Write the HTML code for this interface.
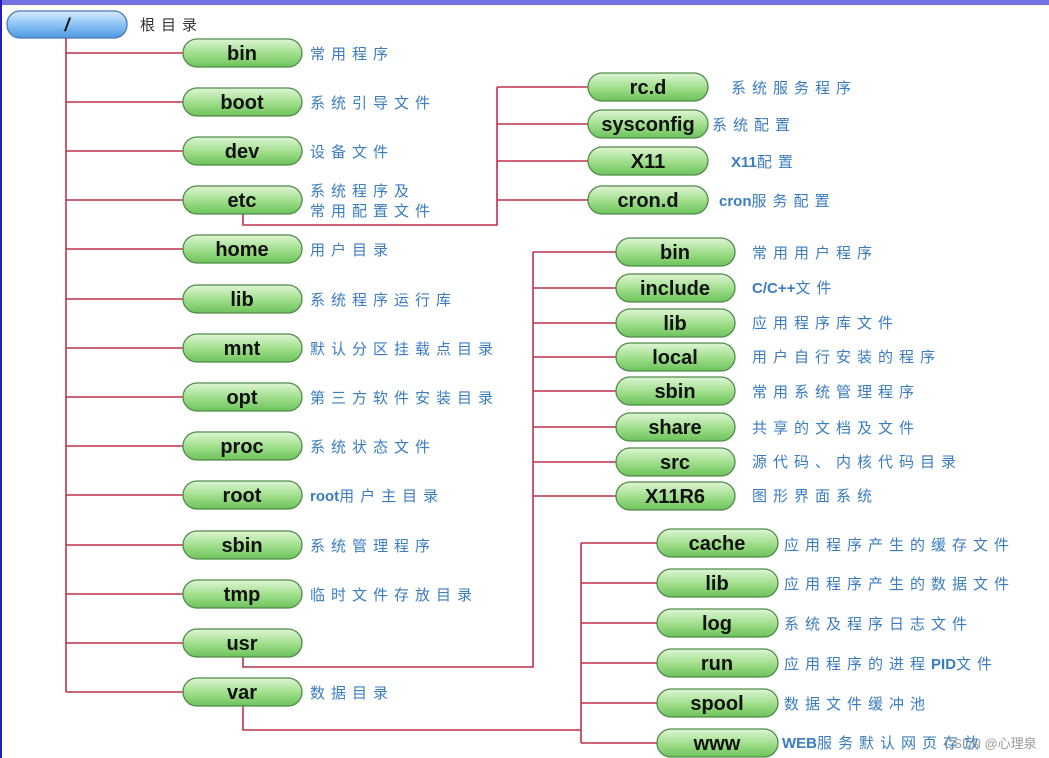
<!DOCTYPE html>
<html><head><meta charset="utf-8"><style>
html,body{margin:0;padding:0;background:#fff;}
svg{display:block;}
.n{font-family:"Liberation Sans",sans-serif;font-weight:bold;font-size:20px;fill:#111;text-anchor:middle;}
.l{font-family:"Liberation Sans","Noto Sans CJK SC",sans-serif;font-size:15px;fill:#3a7cc0;letter-spacing:6px;}
.ln{stroke:#c0304a;stroke-width:1.6;fill:none;}
.p{fill:url(#g);stroke:#4f8a4a;stroke-width:1.3;}
</style></head><body>
<svg width="1049" height="758" xmlns="http://www.w3.org/2000/svg">
<defs>
<linearGradient id="g" x1="0" y1="0" x2="0" y2="1">
<stop offset="0" stop-color="#dff5d6"/><stop offset="0.5" stop-color="#a3e08f"/><stop offset="1" stop-color="#6cc35a"/></linearGradient>
<linearGradient id="b" x1="0" y1="0" x2="0" y2="1">
<stop offset="0" stop-color="#d8ecff"/><stop offset="0.5" stop-color="#8cc4f5"/><stop offset="1" stop-color="#4f98e0"/></linearGradient>
</defs>
<rect x="0" y="0" width="1049" height="5" fill="#7272e0"/>
<rect x="0" y="0" width="2" height="758" fill="#2020c0"/>
<rect x="7" y="11" width="120" height="27" rx="13" fill="url(#b)" stroke="#4a7cb0" stroke-width="1.3"/>
<text x="67" y="31" class="n" style="font-size:18px;font-style:italic">/</text>
<text x="140" y="30" class="l" style="fill:#333">根目录</text>
<path class="ln" d="M66 38V692"/>
<path class="ln" d="M243 214V225H497V87M497 87H588M497 124H588M497 161H588M497 200H588"/>
<path class="ln" d="M243 657V667H533V252M533 252H616M533 288H616M533 323H616M533 357H616M533 391H616M533 427H616M533 462H616M533 496H616"/>
<path class="ln" d="M243 706V730H581M581 743V543M581 543H657M581 583H657M581 623H657M581 663H657M581 703H657M581 743H657"/>
<path class="ln" d="M66 53H183M66 102H183M66 151H183M66 200H183M66 249H183M66 299H183M66 348H183M66 397H183M66 446H183M66 495H183M66 545H183M66 594H183M66 643H183M66 692H183"/>
<g>
<rect class="p" x="183" y="39" width="119" height="28" rx="14"/><text class="n" x="242" y="60">bin</text>
<rect class="p" x="183" y="88" width="119" height="28" rx="14"/><text class="n" x="242" y="109">boot</text>
<rect class="p" x="183" y="137" width="119" height="28" rx="14"/><text class="n" x="242" y="158">dev</text>
<rect class="p" x="183" y="186" width="119" height="28" rx="14"/><text class="n" x="242" y="207">etc</text>
<rect class="p" x="183" y="235" width="119" height="28" rx="14"/><text class="n" x="242" y="256">home</text>
<rect class="p" x="183" y="285" width="119" height="28" rx="14"/><text class="n" x="242" y="306">lib</text>
<rect class="p" x="183" y="334" width="119" height="28" rx="14"/><text class="n" x="242" y="355">mnt</text>
<rect class="p" x="183" y="383" width="119" height="28" rx="14"/><text class="n" x="242" y="404">opt</text>
<rect class="p" x="183" y="432" width="119" height="28" rx="14"/><text class="n" x="242" y="453">proc</text>
<rect class="p" x="183" y="481" width="119" height="28" rx="14"/><text class="n" x="242" y="502">root</text>
<rect class="p" x="183" y="531" width="119" height="28" rx="14"/><text class="n" x="242" y="552">sbin</text>
<rect class="p" x="183" y="580" width="119" height="28" rx="14"/><text class="n" x="242" y="601">tmp</text>
<rect class="p" x="183" y="629" width="119" height="28" rx="14"/><text class="n" x="242" y="650">usr</text>
<rect class="p" x="183" y="678" width="119" height="28" rx="14"/><text class="n" x="242" y="699">var</text>
</g>
<g>
<text class="l" x="310" y="59">常用程序</text>
<text class="l" x="310" y="108">系统引导文件</text>
<text class="l" x="310" y="157">设备文件</text>
<text class="l" x="310" y="196">系统程序及</text>
<text class="l" x="310" y="216">常用配置文件</text>
<text class="l" x="310" y="255">用户目录</text>
<text class="l" x="310" y="305">系统程序运行库</text>
<text class="l" x="310" y="354">默认分区挂载点目录</text>
<text class="l" x="310" y="403">第三方软件安装目录</text>
<text class="l" x="310" y="452">系统状态文件</text>
<text class="l" x="310" y="501"><tspan font-weight="bold" letter-spacing="0">root</tspan>用户主目录</text>
<text class="l" x="310" y="551">系统管理程序</text>
<text class="l" x="310" y="600">临时文件存放目录</text>
<text class="l" x="310" y="698">数据目录</text>
</g>
<g>
<rect class="p" x="588" y="73" width="120" height="28" rx="14"/><text class="n" x="648" y="94">rc.d</text>
<rect class="p" x="588" y="110" width="120" height="28" rx="14"/><text class="n" x="648" y="131">sysconfig</text>
<rect class="p" x="588" y="147" width="120" height="28" rx="14"/><text class="n" x="648" y="168">X11</text>
<rect class="p" x="588" y="186" width="120" height="28" rx="14"/><text class="n" x="648" y="207">cron.d</text>
<text class="l" x="731" y="93">系统服务程序</text>
<text class="l" x="712" y="130">系统配置</text>
<text class="l" x="731" y="167"><tspan font-weight="bold" letter-spacing="0">X11</tspan>配置</text>
<text class="l" x="719" y="206"><tspan font-weight="bold" letter-spacing="0">cron</tspan>服务配置</text>
</g>
<g>
<rect class="p" x="616" y="238" width="119" height="28" rx="14"/><text class="n" x="675" y="259">bin</text>
<rect class="p" x="616" y="274" width="119" height="28" rx="14"/><text class="n" x="675" y="295">include</text>
<rect class="p" x="616" y="309" width="119" height="28" rx="14"/><text class="n" x="675" y="330">lib</text>
<rect class="p" x="616" y="343" width="119" height="28" rx="14"/><text class="n" x="675" y="364">local</text>
<rect class="p" x="616" y="377" width="119" height="28" rx="14"/><text class="n" x="675" y="398">sbin</text>
<rect class="p" x="616" y="413" width="119" height="28" rx="14"/><text class="n" x="675" y="434">share</text>
<rect class="p" x="616" y="448" width="119" height="28" rx="14"/><text class="n" x="675" y="469">src</text>
<rect class="p" x="616" y="482" width="119" height="28" rx="14"/><text class="n" x="675" y="503">X11R6</text>
<text class="l" x="752" y="258">常用用户程序</text>
<text class="l" x="752" y="293"><tspan font-weight="bold" letter-spacing="0">C/C++</tspan>文件</text>
<text class="l" x="752" y="328">应用程序库文件</text>
<text class="l" x="752" y="362">用户自行安装的程序</text>
<text class="l" x="752" y="397">常用系统管理程序</text>
<text class="l" x="752" y="433">共享的文档及文件</text>
<text class="l" x="752" y="467">源代码、内核代码目录</text>
<text class="l" x="752" y="501">图形界面系统</text>
</g>
<g>
<rect class="p" x="657" y="529" width="121" height="28" rx="14"/><text class="n" x="717" y="550">cache</text>
<rect class="p" x="657" y="569" width="121" height="28" rx="14"/><text class="n" x="717" y="590">lib</text>
<rect class="p" x="657" y="609" width="121" height="28" rx="14"/><text class="n" x="717" y="630">log</text>
<rect class="p" x="657" y="649" width="121" height="28" rx="14"/><text class="n" x="717" y="670">run</text>
<rect class="p" x="657" y="689" width="121" height="28" rx="14"/><text class="n" x="717" y="710">spool</text>
<rect class="p" x="657" y="729" width="121" height="28" rx="14"/><text class="n" x="717" y="750">www</text>
<text class="l" x="784" y="550">应用程序产生的缓存文件</text>
<text class="l" x="784" y="589">应用程序产生的数据文件</text>
<text class="l" x="784" y="629">系统及程序日志文件</text>
<text class="l" x="784" y="669">应用程序的进程<tspan font-weight="bold" letter-spacing="0">PID</tspan>文件</text>
<text class="l" x="784" y="709">数据文件缓冲池</text>
<text class="l" x="782" y="748"><tspan font-weight="bold" letter-spacing="0">WEB</tspan>服务默认网页存放</text>
<text x="944" y="748" style="font-family:'Liberation Sans','Noto Sans CJK SC',sans-serif;font-size:13px;fill:#999">CSDN @心理泉</text>
</g>
</svg>
</body></html>
